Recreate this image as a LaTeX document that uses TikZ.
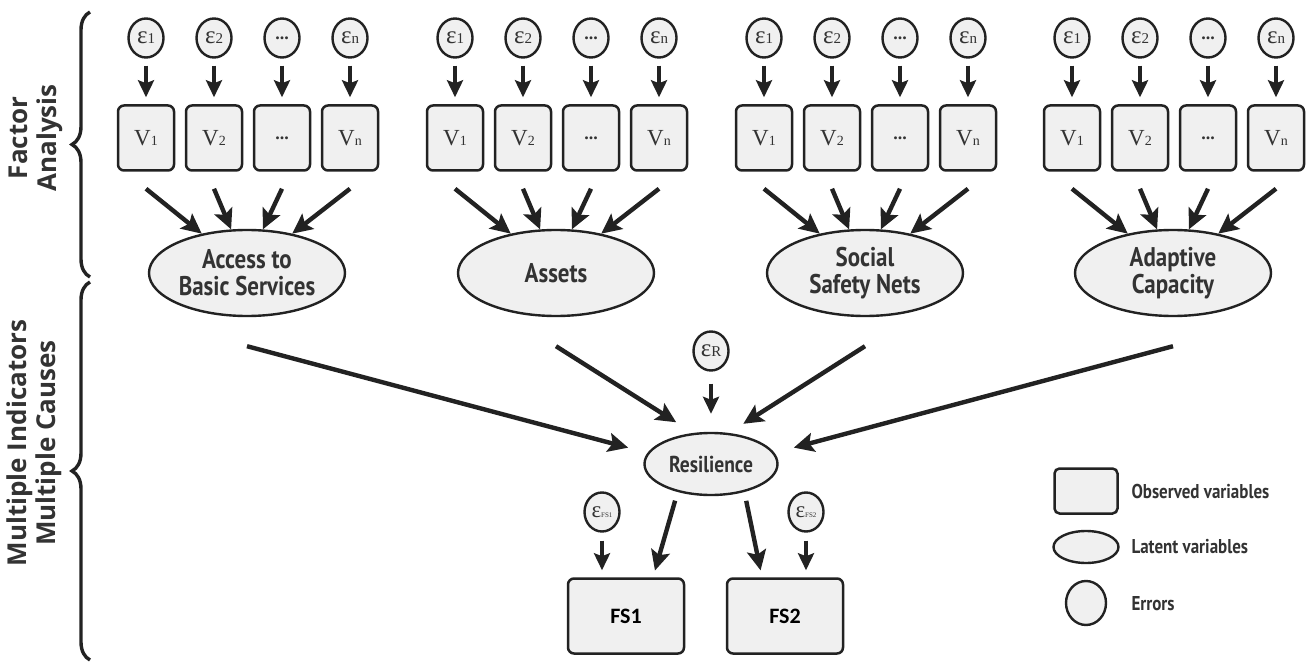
\documentclass[tikz,border=0pt]{standalone}
\usepackage{fontspec}
\setmainfont{Liberation Serif}
\newfontfamily\din[FakeStretch=0.85]{PT Sans}
\newfontfamily\opens{Open Sans}
\newfontfamily\carl{Carlito}
\usetikzlibrary{arrows.meta,shapes.geometric,decorations.pathreplacing}
\definecolor{ink}{HTML}{222222}
\definecolor{boxfill}{HTML}{F0F0F0}
\definecolor{txt}{HTML}{333333}
\newcommand\myeps[1]{{\fontsize{25}{25}\selectfont ε}{\fontsize{15}{15}\selectfont #1}}
\newcommand\myvar[1]{{\fontsize{23}{23}\selectfont V}{\fontsize{14}{14}\selectfont #1}}
\newcommand\mydots{{\bfseries\fontsize{18}{18}\selectfont ...}}
\begin{document}
\begin{tikzpicture}[x=1pt,y=-1pt,
  obs/.style={draw=ink, fill=boxfill, line width=2.5pt, rounded corners=6pt, minimum width=56pt, minimum height=65pt, inner sep=0pt, text=txt},
  lat/.style={ellipse, draw=ink, fill=boxfill, line width=2.4pt, minimum width=196pt, minimum height=86pt, inner sep=0pt, font=\din\bfseries\fontsize{27}{27}\selectfont, text=txt, align=center},
  err/.style={ellipse, draw=ink, fill=boxfill, line width=2.4pt, minimum width=35pt, minimum height=39pt, inner sep=0pt, text=txt},
  arr/.style={line width=4.4pt, draw=ink, -{Stealth[length=20pt,width=19pt,inset=4pt]}},
  sarr/.style={line width=3.6pt, draw=ink, -{Stealth[length=17pt,width=16pt,inset=3pt]}},
  brc/.style={line width=3.4pt, draw=ink, decorate, decoration={brace, amplitude=18pt}},
  side/.style={rotate=90, align=center, font=\opens\bfseries\fontsize{26}{29}\selectfont, text=txt},
  legtxt/.style={anchor=west, font=\din\bfseries\fontsize{20}{20}\selectfont, text=txt},
]
\useasboundingbox[fill=white] (0,0) rectangle (1309,663);

% side labels and braces
\node[side] (fa) at (36,138) {Factor\\Analysis};
\node[side] (mimc) at (34,443) {Multiple Indicators\\Multiple Causes};
\draw[brc] (90,277) -- (90,12);
\draw[brc] (90,660) -- (90,282);

% four factor groups
\foreach \g/\cx/\lab in {1/247/{Access to\\Basic Services}, 2/556/{Assets}, 3/865/{Social\\Safety Nets}, 4/1173/{Adaptive\\Capacity}} {
  \node[lat] (L\g) at (\cx,273) {\lab};
  \foreach \i/\dx/\es/\vs/\ang in {1/-101/{\myeps{1}}/{\myvar{1}}/139, 2/-33/{\myeps{2}}/{\myvar{2}}/110, 3/35/{\mydots}/{\mydots}/70, 4/103/{\myeps{n}}/{\myvar{n}}/41} {
    \node[err] (e\g\i) at (\cx+\dx,38) {\es};
    \node[obs] (v\g\i) at (\cx+\dx,138) {\vs};
    \draw[sarr, shorten <=7pt, shorten >=7pt] (e\g\i) -- (v\g\i);
    \draw[arr] ([yshift=-17pt]v\g\i.south) -- (L\g.\ang);
  }
}

% resilience
\node[lat, minimum width=133pt, minimum height=62pt, font=\din\bfseries\fontsize{23}{23}\selectfont] (res) at (711,464) {Resilience};
\node[err] (eR) at (711,351) {\myeps{R}};
\draw[sarr, shorten <=12pt, shorten >=18pt] (eR) -- (res);

\draw[arr, shorten >=20pt] ([yshift=-29pt]L1.south) -- (res.170);
\draw[arr, shorten >=20pt] ([yshift=-29pt]L2.south) -- (res.120);
\draw[arr, shorten >=17pt] ([yshift=-29pt]L3.south) -- (res.60);
\draw[arr, shorten >=20pt] ([yshift=-29pt]L4.south) -- (res.10);

% outcomes
\node[obs, minimum width=116pt, minimum height=75pt, font=\carl\bfseries\fontsize{22}{22}\selectfont, text=black] (FS1) at (626,616) {FS1};
\node[obs, minimum width=116pt, minimum height=75pt, font=\carl\bfseries\fontsize{22}{22}\selectfont, text=black] (FS2) at (785,616) {FS2};
\node[err] (eF1) at (602,512) {{\fontsize{23}{23}\selectfont ε}{\fontsize{7}{7}\selectfont FS1}};
\node[err] (eF2) at (806,512) {{\fontsize{23}{23}\selectfont ε}{\fontsize{7}{7}\selectfont FS2}};
\draw[sarr, shorten <=8pt, shorten >=7pt] (eF1) -- (eF1 |- FS1.north);
\draw[sarr, shorten <=8pt, shorten >=7pt] (eF2) -- (eF2 |- FS2.north);
\draw[arr, shorten <=9pt, shorten >=7pt] (res.220) -- ([xshift=27pt]FS1.north);
\draw[arr, shorten <=9pt, shorten >=7pt] (res.320) -- ([xshift=-23pt]FS2.north);

% legend
\node[obs, minimum width=63pt, minimum height=45pt, rounded corners=5pt] (lo) at (1086,491) {};
\node[ellipse, draw=ink, fill=boxfill, line width=2.4pt, minimum width=65pt, minimum height=32pt, inner sep=0pt] (ll) at (1086,547) {};
\node[err, minimum width=40pt, minimum height=44pt] (le) at (1086,603) {};
\node[legtxt] (lto) at (1128,491) {Observed variables};
\node[legtxt] (ltl) at (1128,547) {Latent variables};
\node[legtxt] (lte) at (1128,604) {Errors};
\end{tikzpicture}
\end{document}
